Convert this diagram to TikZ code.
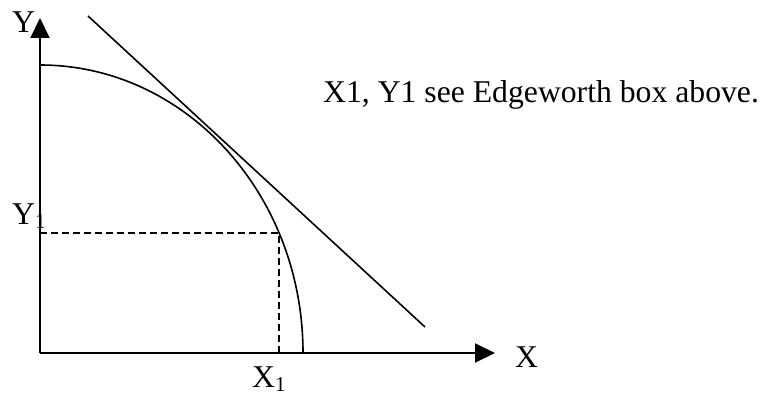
\documentclass[tikz,border=0pt]{standalone}
\usepackage{fontspec}
\setmainfont{Liberation Serif}
\usetikzlibrary{arrows.meta}
\newcommand\mysubone{\raisebox{-4pt}{\fontsize{21}{25}\selectfont 1}}
\begin{document}
\begin{tikzpicture}[x=1pt,y=1pt,
  axis/.style={line width=2pt,-{Triangle[length=20pt,width=19pt]}},
  curveline/.style={line width=1.6pt},
  guide/.style={line width=1.5pt,dash pattern=on 7pt off 4pt},
  lbl/.style={inner sep=0pt,anchor=base west,font=\fontsize{31.7}{38}\selectfont}]
\useasboundingbox (0,0) rectangle (762,396);
\coordinate (O) at (40,43);
\coordinate (Ytop) at (40,378);
\coordinate (Xend) at (495,43);
\coordinate (A) at (40,331);
\coordinate (P) at (279,163);
\coordinate (Py) at (40,163);
\coordinate (Px) at (279,43);
\coordinate (T1) at (88,380);
\coordinate (T2) at (425,69);
\draw[axis] (O) -- (Ytop);
\draw[axis] (O) -- (Xend);
\draw[curveline] (A) arc[start angle=90,end angle=0,x radius=263,y radius=288];
\draw[curveline] (T1) -- (T2);
\draw[guide] (Py) -- (P) -- (Px);
\node[lbl] (ylab) at (12,363) {Y};
\node[lbl] (xlab) at (515,29) {X};
\node[lbl] (y1lab) at (12,171) {Y\mysubone};
\node[lbl] (x1lab) at (252,9) {X\mysubone};
\node[lbl] (note) at (323,293) {X1, Y1 see Edgeworth box above.};
\end{tikzpicture}
\end{document}
